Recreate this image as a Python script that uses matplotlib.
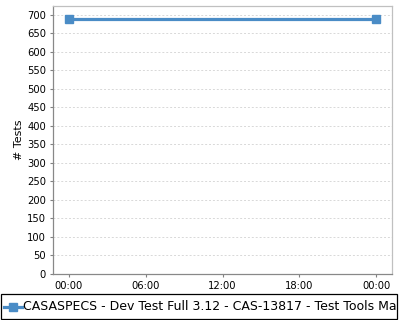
import matplotlib
matplotlib.use("Agg")
import matplotlib.pyplot as plt
from matplotlib.patches import Rectangle
from matplotlib.lines import Line2D

# data
hours = [0, 24]
tests = [690, 690]
tick_hours = [0, 6, 12, 18, 24]
tick_labels = ['00:00', '06:00', '12:00', '18:00', '00:00']
y_ticks = list(range(0, 701, 50))
serie = 'CASASPECS - Dev Test Full 3.12 - CAS-13817 - Test Tools Manual'

color = '#4a8cc6'
W, H = 400, 320

fig = plt.figure(figsize=(4, 3.2), dpi=100)
ax = fig.add_axes([53 / W, 1 - 274 / H, (392 - 53) / W, (274 - 6) / H])

ax.plot(hours, tests, color=color, linewidth=2.3, marker='s',
        markersize=5.5, clip_on=False, zorder=3)

ax.set_xlim(-1.25, 25.25)
ax.set_ylim(0, 724)
ax.set_xticks(tick_hours)
ax.set_xticklabels(tick_labels)
ax.set_yticks(y_ticks)
ax.tick_params(labelsize=7.2, length=2, width=0.8, color='#808080', pad=3)
ax.set_ylabel('# Tests', fontsize=8, labelpad=2)

ax.grid(axis='y', color='#d8d8d8', linestyle=(0, (2, 2)), linewidth=0.7)
ax.set_axisbelow(True)
for s in ['left', 'bottom']:
    ax.spines[s].set_color('#888888')
for s in ['top', 'right']:
    ax.spines[s].set_color('#c0c0c0')
for s in ax.spines.values():
    s.set_linewidth(0.9)

# leyenda recortada a mano
box = Rectangle((1 / W, 1 - 319 / H), 396 / W, 25 / H, transform=fig.transFigure,
                fill=False, edgecolor='black', linewidth=0.9)
fig.patches.append(box)
ly = 1 - 306.5 / H
fig.add_artist(Line2D([4 / W, 22 / W], [ly, ly], transform=fig.transFigure,
                      color=color, linewidth=2.3))
fig.add_artist(Line2D([13 / W], [ly], transform=fig.transFigure, color=color,
                      marker='s', markersize=5.5, linestyle='none'))
t = fig.text(23 / W, ly, serie, fontsize=9.0, va='center', ha='left')
t.set_clip_path(box)

fig.savefig('out.png', dpi=100)
